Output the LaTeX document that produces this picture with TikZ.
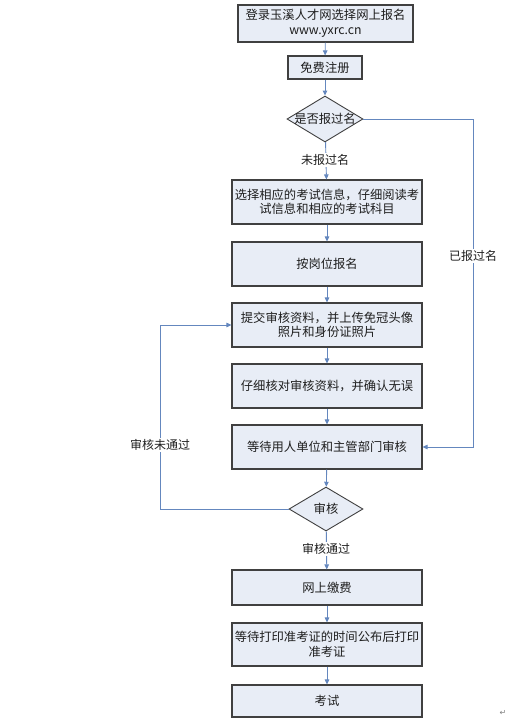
\documentclass[tikz,border=0pt]{standalone}
\usepackage{fontspec}
\setmainfont{Noto Sans CJK SC}
\newfontfamily\symfont{DejaVu Sans}
\usetikzlibrary{shapes.geometric,arrows.meta}
\definecolor{boxfill}{RGB}{232,237,246}
\definecolor{boxline}{RGB}{64,64,64}
\definecolor{flow}{RGB}{100,135,190}
\definecolor{txt}{RGB}{30,30,30}
\tikzset{
  box/.style={draw=boxline, line width=1.1pt, fill=boxfill, rectangle, inner sep=0pt,
    minimum width=190pt, minimum height=44pt, align=center, text=txt,
    font=\fontsize{12.3}{14.5}\selectfont},
  dia/.style={draw=boxline, line width=0.9pt, fill=boxfill, diamond, inner sep=0pt,
    minimum width=76pt, minimum height=46pt},
  ttl/.style={text=txt, font=\fontsize{12.3}{14.5}\selectfont, inner sep=1pt},
  lbl/.style={fill=white, text=txt, font=\fontsize{12}{14}\selectfont, inner sep=1.5pt},
  arr/.style={draw=flow, line width=0.9pt, -{Triangle[length=5pt,width=4.5pt]}},
}
\begin{document}
\begin{tikzpicture}[x=1pt,y=-1pt]
\useasboundingbox (0,0) rectangle (519,723);
\node[box, minimum width=175pt, minimum height=37pt] (b1) at (325.5,23.5) {登录玉溪人才网选择网上报名\\www.yxrc.cn};
\node[box, minimum width=74pt, minimum height=23pt] (b2) at (325,67.5) {免费注册};
\node[dia] (d1) at (325,119) {};
\node[ttl] (t1) at (d1) {是否报过名};
\node[box] (b3) at (327,202) {选择相应的考试信息，仔细阅读考\\试信息和相应的考试科目};
\node[box] (b4) at (327,264) {按岗位报名};
\node[box] (b5) at (327,325) {提交审核资料，并上传免冠头像\\照片和身份证照片};
\node[box] (b6) at (327,386) {仔细核对审核资料，并确认无误};
\node[box] (b7) at (327,447) {等待用人单位和主管部门审核};
\node[dia, minimum width=74pt, minimum height=44pt] (d2) at (326,509) {};
\node[ttl] (t2) at (d2) {审核};
\node[box, minimum height=35pt] (b8) at (327,587.5) {网上缴费};
\node[box, minimum height=43pt] (b9) at (327,644.5) {等待打印准考证的时间公布后打印\\准考证};
\node[box, minimum height=32pt] (b10) at (327,701) {考试};

\coordinate (r) at (473,119);
\coordinate (l) at (160,509);

\draw[arr] (b1) -- (b2);
\draw[arr] (b2) -- (d1);
\draw[arr] (d1) -- (b3);
\draw[arr] (b3) -- (b4);
\draw[arr] (b4) -- (b5);
\draw[arr] (b5) -- (b6);
\draw[arr] (b6) -- (b7);
\draw[arr] (b7) -- (d2);
\draw[arr] (d2) -- (b8);
\draw[arr] (b8) -- (b9);
\draw[arr] (b9) -- (b10);
\draw[arr] (d1.east) -- (r) |- (b7.east);
\draw[arr] (d2.west) -- (l) |- (b5.west);

\node[lbl] (n1) at (325,160) {未报过名};
\node[lbl] (n2) at (473,256) {已报过名};
\node[lbl] (n3) at (160,445) {审核未通过};
\node[lbl] (n4) at (326,549) {审核通过};
\node[text=gray, font=\symfont\fontsize{8}{9}\selectfont, inner sep=0pt] (pm) at (503,713) {↵};
\end{tikzpicture}
\end{document}
